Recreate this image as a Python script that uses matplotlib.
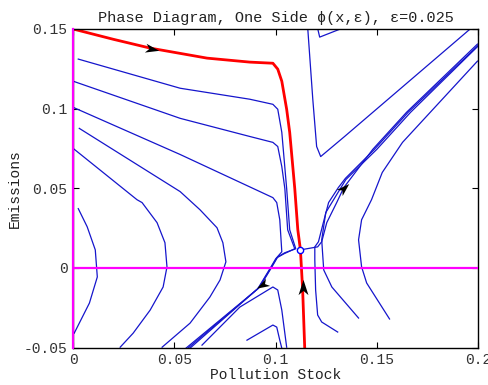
import numpy as np
import matplotlib
matplotlib.use("Agg")
import matplotlib.pyplot as plt
from matplotlib.path import Path

# stable manifold (red)
red_x = [0.000, 0.0200, 0.0381, 0.0662, 0.0873, 0.0987, 0.1011, 0.1031, 0.1055, 0.1070, 0.1095, 0.1110, 0.1123, 0.1134, 0.1144]
red_y = [0.150, 0.1435, 0.1380, 0.1317, 0.1292, 0.1285, 0.1248, 0.1172, 0.0996, 0.0851, 0.0498, 0.0240, 0.0113, -0.0139, -0.0498]

# trajectories coming in from the upper left and leaving along the left branch
a1_x = [0.0026, 0.0529, 0.0873, 0.0987, 0.1011, 0.1031, 0.1055, 0.1070, 0.1100, 0.1046, 0.1011, 0.0982, 0.0922, 0.0578]
a1_y = [0.1311, 0.1128, 0.1059, 0.1027, 0.0996, 0.0851, 0.0498, 0.0239, 0.0120, 0.0095, 0.0069, 0.0006, -0.0120, -0.0504]
a2_x = [0.0001, 0.0529, 0.0873, 0.0987, 0.1011, 0.1031, 0.1046, 0.1060, 0.1095, 0.1041, 0.1006, 0.0977, 0.0917, 0.0568]
a2_y = [0.1172, 0.0939, 0.0825, 0.0788, 0.0762, 0.0636, 0.0498, 0.0239, 0.0120, 0.0088, 0.0063, 0.0000, -0.0126, -0.0504]
a3_x = [0.0001, 0.0529, 0.0987, 0.1006, 0.1021, 0.1031, 0.1001, 0.0972, 0.0912, 0.0558]
a3_y = [0.1008, 0.0712, 0.0441, 0.0410, 0.0302, 0.0101, 0.0057, -0.0006, -0.0132, -0.0504]

# trajectories that turn back before reaching the steady state
a4_x = [0.0031, 0.0529, 0.0627, 0.0711, 0.0740, 0.0755, 0.0726, 0.0676, 0.0578, 0.0440]
a4_y = [0.0876, 0.0479, 0.0365, 0.0252, 0.0158, 0.0038, -0.0076, -0.0183, -0.0347, -0.0498]
a5_x = [0.0001, 0.0316, 0.0341, 0.0415, 0.0454, 0.0464, 0.0445, 0.0381, 0.0297, 0.0233]
a5_y = [0.0750, 0.0428, 0.0410, 0.0284, 0.0158, 0.0006, -0.0120, -0.0265, -0.0410, -0.0498]
a6_x = [0.0026, 0.0070, 0.0110, 0.0120, 0.0081, 0.0006]
a6_y = [0.0372, 0.0258, 0.0113, -0.0057, -0.0221, -0.0410]

# lower trajectories
l2_x = [0.0637, 0.0824, 0.0987, 0.1011, 0.1031, 0.1055]
l2_y = [-0.0485, -0.0246, -0.0120, -0.0139, -0.0265, -0.0498]
l3_x = [0.0859, 0.0987, 0.1006, 0.1021, 0.1031]
l3_y = [-0.0454, -0.0359, -0.0372, -0.0454, -0.0504]

# right branch of the unstable manifold and its neighbours
r2_x = [0.1123, 0.1208, 0.1228, 0.1253, 0.1302, 0.1337, 0.1480, 0.1647, 0.1997]
r2_y = [0.0113, 0.0132, 0.0164, 0.0284, 0.0410, 0.0504, 0.0744, 0.0977, 0.1405]
l4_x = [0.1307, 0.1228, 0.1208, 0.1198, 0.1194, 0.1194, 0.1212, 0.1236, 0.1262, 0.1310, 0.1345, 0.1488, 0.1655, 0.2003]
l4_y = [-0.0403, -0.0340, -0.0296, -0.0139, 0.0050, 0.0132, 0.0164, 0.0284, 0.0410, 0.0504, 0.0562, 0.0744, 0.0977, 0.1400]
r4_x = [0.1410, 0.1278, 0.1238, 0.1228, 0.1248, 0.1347, 0.1500, 0.1667, 0.2010]
r4_y = [-0.0315, -0.0120, -0.0013, 0.0176, 0.0347, 0.0554, 0.0744, 0.0977, 0.1405]
r3_x = [0.1563, 0.1450, 0.1425, 0.1410, 0.1425, 0.1474, 0.1527, 0.1627, 0.1997]
r3_y = [-0.0321, -0.0095, 0.0006, 0.0176, 0.0302, 0.0428, 0.0599, 0.0788, 0.1298]

# V shaped trajectories near the top
r1_x = [0.1159, 0.1184, 0.1203, 0.1223, 0.1341, 0.1972]
r1_y = [0.1506, 0.1059, 0.0762, 0.0699, 0.0825, 0.1512]
r0_x = [0.1205, 0.1218, 0.1332]
r0_y = [0.1520, 0.1449, 0.1506]

ss_x, ss_y = 0.1123, 0.0113

# arrows: position and direction
arrow_x = [0.039, 0.1134, 0.0933, 0.1337]
arrow_y = [0.1375, -0.0120, -0.0107, 0.0504]
arrow_dx = [1.0, 0.0, -1.0, 1.0]
arrow_dy = [-0.25, 1.0, -0.72, 1.2]

fig = plt.figure(figsize=(4.88, 3.85), dpi=100)
ax = fig.add_axes([0.1496, 0.0974, 0.83, 0.8273])
ax.set_xlim(0, 0.2)
ax.set_ylim(-0.05, 0.15)

blue = '#1515cc'
for xs, ys in [(a1_x, a1_y), (a2_x, a2_y), (a3_x, a3_y), (a4_x, a4_y), (a5_x, a5_y),
               (a6_x, a6_y), (l2_x, l2_y), (l3_x, l3_y), (r2_x, r2_y), (l4_x, l4_y),
               (r4_x, r4_y), (r3_x, r3_y), (r1_x, r1_y), (r0_x, r0_y)]:
    ax.plot(xs, ys, color=blue, lw=0.9)

ax.plot(red_x, red_y, color='red', lw=2)
ax.axhline(0, color='magenta', lw=1.6, zorder=3)
ax.axvline(0, color='magenta', lw=1.6, zorder=3, clip_on=False)
ax.plot(ss_x, ss_y, 'o', ms=4.5, mfc='white', mec='blue', mew=1, zorder=4)

# arrowheads, oriented in screen space
fig.canvas.draw()
head = np.array([[1.0, 0.0], [-1.0, 0.65], [-0.45, 0.0], [-1.0, -0.65], [1.0, 0.0]])
codes = [Path.MOVETO, Path.LINETO, Path.LINETO, Path.LINETO, Path.CLOSEPOLY]
for xa, ya, dx, dy in zip(arrow_x, arrow_y, arrow_dx, arrow_dy):
    p0 = ax.transData.transform((xa, ya))
    p1 = ax.transData.transform((xa + dx * 0.001, ya + dy * 0.001))
    ang = np.arctan2(p1[1] - p0[1], p1[0] - p0[0])
    rot = np.array([[np.cos(ang), -np.sin(ang)], [np.sin(ang), np.cos(ang)]])
    verts = head @ rot.T
    ax.plot(xa, ya, marker=Path(verts, codes), ms=11, color='k', mew=0, zorder=5)

font = 'Liberation Mono'
ax.set_xticks([0, 0.05, 0.1, 0.15, 0.2])
ax.set_xticklabels(['0', '0.05', '0.1', '0.15', '0.2'])
ax.set_yticks([-0.05, 0, 0.05, 0.1, 0.15])
ax.set_yticklabels(['-0.05', '0', '0.05', '0.1', '0.15'])
ax.tick_params(direction='in', top=True, right=True, length=4, width=0.8, labelsize=10.5, pad=4,
               labelcolor='#333333')
for lab in ax.get_xticklabels() + ax.get_yticklabels():
    lab.set_family(font)
for s in ax.spines.values():
    s.set_linewidth(1.0)

ax.set_title('Phase Diagram, One Side \u03d5(x,\u03b5), \u03b5=0.025', family=[font, 'DejaVu Sans'],
             fontsize=11, pad=5, color='#222222')
ax.set_xlabel('Pollution Stock', family=font, fontsize=10.5, labelpad=1, color='#222222')
ax.set_ylabel('Emissions', family=font, fontsize=10.5, labelpad=1, color='#222222')

fig.savefig('out.png', dpi=100)
